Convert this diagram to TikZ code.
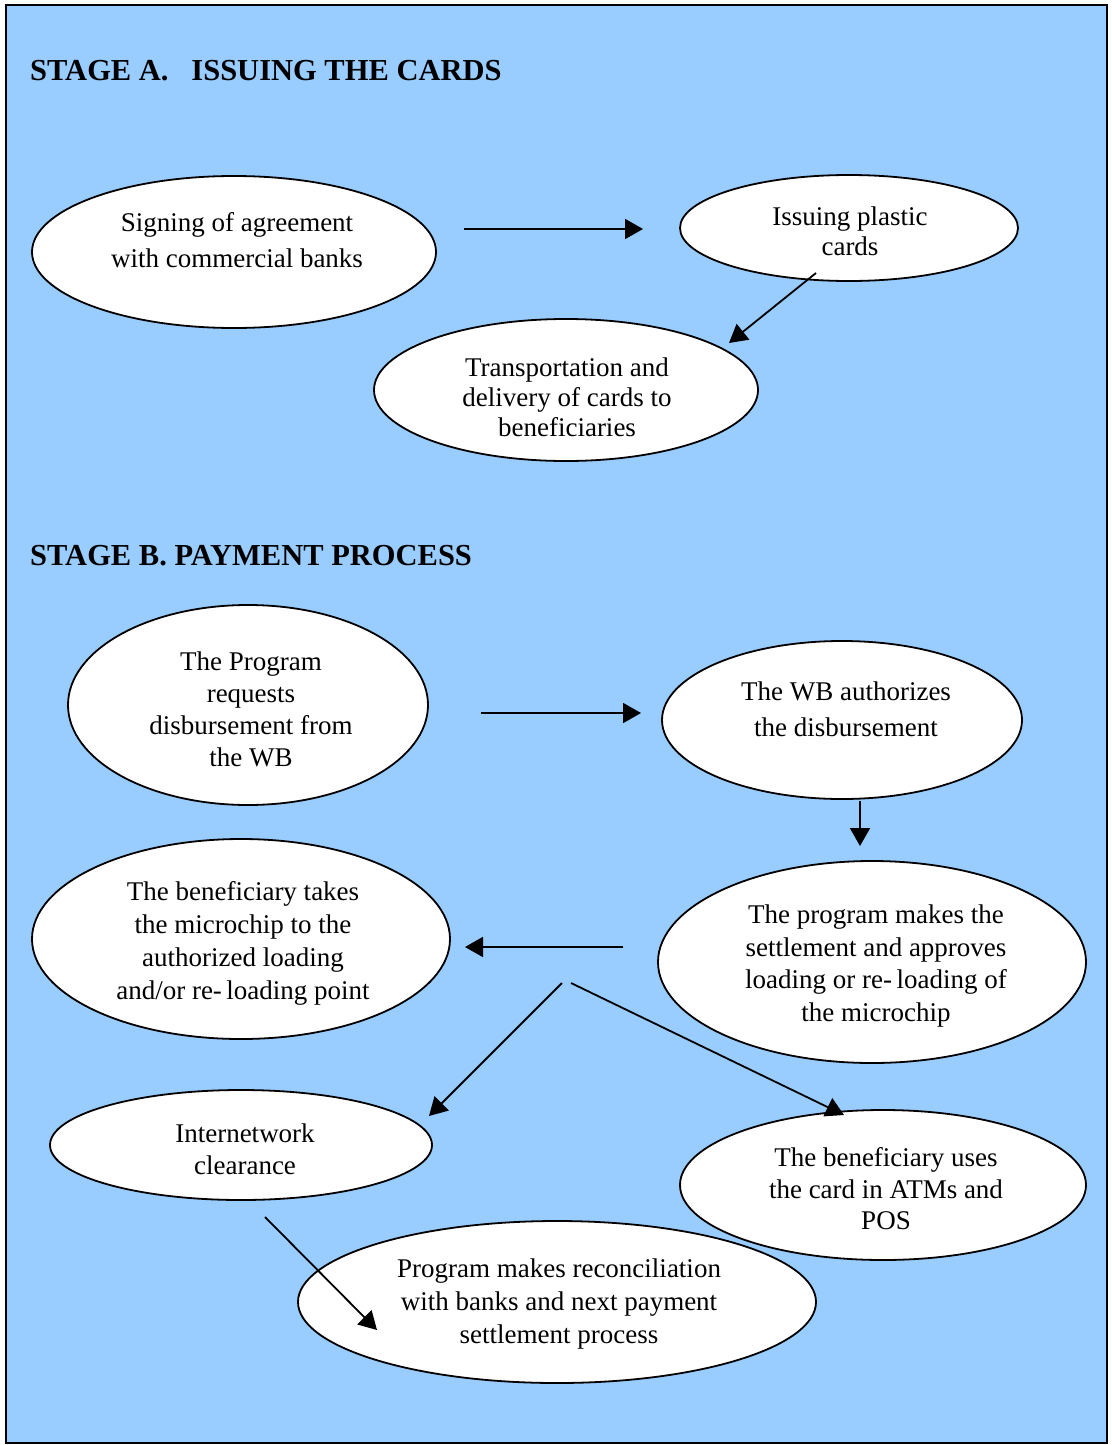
\documentclass[tikz,border=0pt]{standalone}
\usepackage{fontspec}
\setmainfont{Liberation Serif}
\usetikzlibrary{shapes.geometric,arrows.meta}
\definecolor{panelblue}{HTML}{99CCFF}
\begin{document}
\begin{tikzpicture}[x=1pt,y=-1pt,
  bubble/.style={ellipse,draw=black,line width=1.8pt,fill=white,inner sep=0pt},
  caption/.style={align=center,inner sep=0pt,font=\fontsize{27}{32}\selectfont},
  heading/.style={anchor=base west,inner sep=0pt,font=\fontsize{30.5}{34}\selectfont\bfseries},
  flow/.style={line width=1.8pt,-{Triangle[length=18pt,width=20pt]}}]
\useasboundingbox (0,0) rectangle (1111,1445);
\draw[fill=panelblue,line width=2.5pt] (6,5) rectangle (1107,1443);

% headings
\node[heading] (hA) at (30,81) {STAGE A.\hspace{0.75em}ISSUING THE CARDS};
\node[heading] (hB) at (30,565) {STAGE B. PAYMENT PROCESS};

% stage A bubbles
\node[bubble,minimum width=404pt,minimum height=152pt] (sign) at (234,252) {};
\node[bubble,minimum width=338pt,minimum height=106pt] (issue) at (849,228) {};
\node[bubble,minimum width=384pt,minimum height=142pt] (trans) at (566,390) {};

% stage B bubbles
\node[bubble,minimum width=360pt,minimum height=200pt] (req) at (248,705) {};
\node[bubble,minimum width=360pt,minimum height=158pt] (auth) at (842,720) {};
\node[bubble,minimum width=418pt,minimum height=200pt] (takes) at (241,939) {};
\node[bubble,minimum width=428pt,minimum height=202pt] (settle) at (872,962) {};
\node[bubble,minimum width=382pt,minimum height=110pt] (clear) at (241,1145) {};
\node[bubble,minimum width=406pt,minimum height=150pt] (uses) at (883,1185) {};
\node[bubble,minimum width=518pt,minimum height=162pt] (recon) at (557,1302) {};

% captions
\node[caption,font=\fontsize{27}{36}\selectfont] (tsign) at (237,240) {Signing of agreement\\with commercial banks};
\node[caption,font=\fontsize{27}{30}\selectfont] (tissue) at (850,231) {Issuing plastic\\cards};
\node[caption,font=\fontsize{27}{30}\selectfont] (ttrans) at (567,397) {Transportation and\\delivery of cards to\\beneficiaries};
\node[caption] (treq) at (251,709) {The Program\\requests\\disbursement from\\the WB};
\node[caption,font=\fontsize{27}{36}\selectfont] (tauth) at (846,709) {The WB authorizes\\the disbursement};
\node[caption,font=\fontsize{27}{33}\selectfont] (ttakes) at (243,943) {The beneficiary takes\\the microchip to the\\authorized loading\\and/or re-\,loading point};
\node[caption,font=\fontsize{27}{32.5}\selectfont] (tsettle) at (876,966) {The program makes the\\settlement and approves\\loading or re-\,loading of\\the microchip};
\node[caption] (tclear) at (245,1149) {Internetwork\\clearance};
\node[caption,font=\fontsize{27}{31.5}\selectfont] (tuses) at (886,1189) {The beneficiary uses\\the card in ATMs and\\POS};
\node[caption,font=\fontsize{27}{33}\selectfont] (trecon) at (559,1304) {Program makes reconciliation\\with banks and next payment\\settlement process};

% connector ends
\coordinate (a1s) at (464,229);  \coordinate (a1e) at (643,229);
\coordinate (a2s) at (816,273);  \coordinate (a2e) at (729,343);
\coordinate (b1s) at (481,713);  \coordinate (b1e) at (641,713);
\coordinate (b2s) at (860,801);  \coordinate (b2e) at (860,846);
\coordinate (b3s) at (623,947);  \coordinate (b3e) at (465,947);
\coordinate (b4s) at (562,983);  \coordinate (b4e) at (429,1116);
\coordinate (b5s) at (571,983);  \coordinate (b5e) at (844,1115);
\coordinate (b6s) at (265,1217); \coordinate (b6e) at (377,1330);

\draw[flow] (a1s) -- (a1e);
\draw[flow] (a2s) -- (a2e);
\draw[flow] (b1s) -- (b1e);
\draw[flow] (b2s) -- (b2e);
\draw[flow] (b3s) -- (b3e);
\draw[flow] (b4s) -- (b4e);
\draw[flow] (b5s) -- (b5e);
\draw[flow] (b6s) -- (b6e);
\end{tikzpicture}
\end{document}
